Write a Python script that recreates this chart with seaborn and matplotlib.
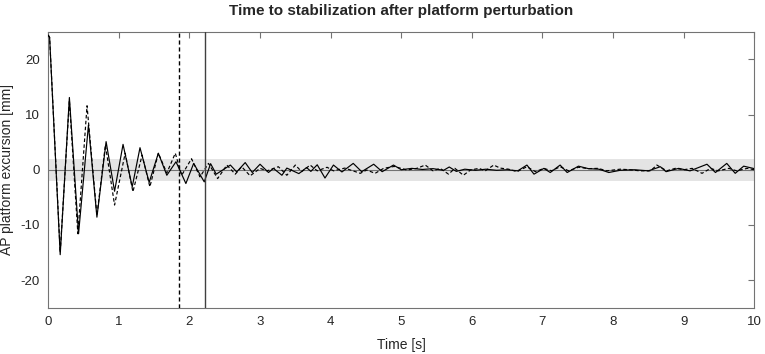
import numpy as np
import pandas as pd
import seaborn as sns
import matplotlib.pyplot as plt

# solid trace: peaks / troughs (time [s], excursion [mm])
t_solid = [0.00, 0.02, 0.17, 0.30, 0.43, 0.57, 0.69, 0.82, 0.94, 1.06, 1.19, 1.30,
           1.43, 1.56, 1.68, 1.81, 1.95, 2.06, 2.21, 2.30, 2.38, 2.58, 2.67, 2.79,
           2.89, 3.00, 3.12, 3.19, 3.31, 3.38, 3.55, 3.66, 3.72, 3.81, 3.92, 4.04,
           4.16, 4.32, 4.44, 4.61, 4.73, 4.89, 5.00, 5.15, 5.30, 5.45, 5.60, 5.68,
           5.78, 5.90, 6.05, 6.20, 6.35, 6.50, 6.65, 6.78, 6.88, 7.02, 7.11, 7.25,
           7.35, 7.51, 7.65, 7.80, 7.94, 8.10, 8.30, 8.50, 8.67, 8.75, 8.93, 9.09,
           9.33, 9.45, 9.61, 9.73, 9.85, 10.00]
y_solid = [24.4, 24.0, -15.4, 13.1, -11.6, 8.1, -8.6, 5.1, -3.9, 4.6, -3.1, 4.0,
           -2.3, 3.0, -1.0, 1.45, -2.5, 1.15, -2.2, 1.1, -0.8, 0.85, -0.4, 1.3,
           -0.5, 1.0, -0.5, 0.25, -1.0, 0.3, -0.7, 0.4, -0.3, 0.9, -1.5, 0.85,
           -0.4, 1.15, -0.35, 1.0, -0.35, 0.85, 0.0, 0.25, 0.05, 0.2, -0.1, 0.5,
           -0.3, 0.1, -0.1, 0.1, -0.1, 0.0, -0.2, 0.85, -0.8, 0.25, -0.5, 0.85,
           -0.5, 0.65, 0.2, 0.1, -0.5, -0.1, 0.0, -0.2, 0.55, -0.35, 0.25, -0.2,
           1.0, -0.5, 1.15, -0.65, 0.65, 0.2]

# dashed trace
t_dash = [0.00, 0.02, 0.17, 0.30, 0.42, 0.55, 0.69, 0.81, 0.94, 1.09, 1.20, 1.33,
          1.44, 1.56, 1.68, 1.80, 1.89, 2.03, 2.15, 2.27, 2.40, 2.53, 2.65, 2.74,
          2.86, 3.00, 3.10, 3.26, 3.38, 3.50, 3.59, 3.71, 3.81, 3.95, 4.04, 4.20,
          4.42, 4.51, 4.63, 4.75, 4.90, 5.08, 5.22, 5.34, 5.45, 5.55, 5.67, 5.76,
          5.88, 5.98, 6.10, 6.19, 6.31, 6.40, 6.52, 6.64, 6.78, 6.90, 7.02, 7.13,
          7.25, 7.37, 7.51, 7.65, 7.79, 7.91, 8.10, 8.24, 8.38, 8.53, 8.62, 8.76,
          8.88, 9.00, 9.12, 9.26, 9.38, 9.49, 9.64, 9.75, 9.90, 10.00]
y_dash = [24.4, 24.0, -15.0, 12.6, -11.6, 11.6, -8.3, 4.5, -6.4, 3.0, -4.0, 2.65,
          -3.1, 3.0, -0.6, 3.0, -1.0, 2.0, -1.3, 1.15, -1.6, 0.85, -0.8, 0.55,
          -1.1, 0.25, -0.2, 0.55, -1.0, 0.85, -0.35, 0.85, -0.2, 0.45, -0.2, 0.3,
          -0.65, -0.05, -0.65, 0.25, 0.6, -0.05, 0.25, 0.85, -0.2, 0.25, -0.8, 0.25,
          -1.0, -0.05, 0.25, -0.2, 0.85, 0.3, 0.1, -0.35, 0.55, -0.35, 0.25, -0.2,
          0.55, -0.2, 0.45, 0.2, 0.25, -0.2, 0.1, 0.0, -0.2, -0.2, 0.85, -0.2,
          0.25, 0.0, 0.25, -0.65, 0.25, -0.2, 0.25, -0.2, 0.25, 0.0]

t_stable_dash = 1.85
t_stable_solid = 2.22
band = 2.0

sns.set_style('white')
plt.rcParams['font.family'] = ['Liberation Sans', 'DejaVu Sans']
plt.rcParams['axes.unicode_minus'] = False

fig = plt.figure(figsize=(7.65, 3.54), dpi=100)
ax = fig.add_axes([0.063, 0.131, 0.923, 0.779])

ax.axhspan(-band, band, color='#e4e4e4', lw=0, zorder=0)
ax.axhline(0, color='0.45', lw=0.8, zorder=1)

sns.lineplot(x=t_solid, y=y_solid, ax=ax, color='black', lw=0.85, zorder=3)
sns.lineplot(x=t_dash, y=y_dash, ax=ax, color='black', lw=0.85,
             linestyle=(0, (3, 2)), zorder=3)

ax.axvline(t_stable_dash, color='black', lw=1.0, linestyle=(0, (3, 2)), zorder=4)
ax.axvline(t_stable_solid, color='0.25', lw=1.0, zorder=4)

ax.set_xlim(0, 10)
ax.set_ylim(-25, 25)
ax.set_xticks(range(0, 11))
ax.set_yticks([-20, -10, 0, 10, 20])
ax.tick_params(direction='in', top=True, right=True, length=4, width=0.8,
               color='0.45', labelsize=9.5, pad=6)
for s in ax.spines.values():
    s.set_color('0.45')
    s.set_linewidth(0.8)

ax.set_xlabel('Time [s]', fontsize=10, labelpad=7)
ax.set_ylabel('AP platform excursion [mm]', fontsize=10, labelpad=5)
ax.set_title('Time to stabilization after platform perturbation',
             fontsize=11, fontweight='bold', pad=12)

plt.savefig('out.png', dpi=100)
plt.close()
